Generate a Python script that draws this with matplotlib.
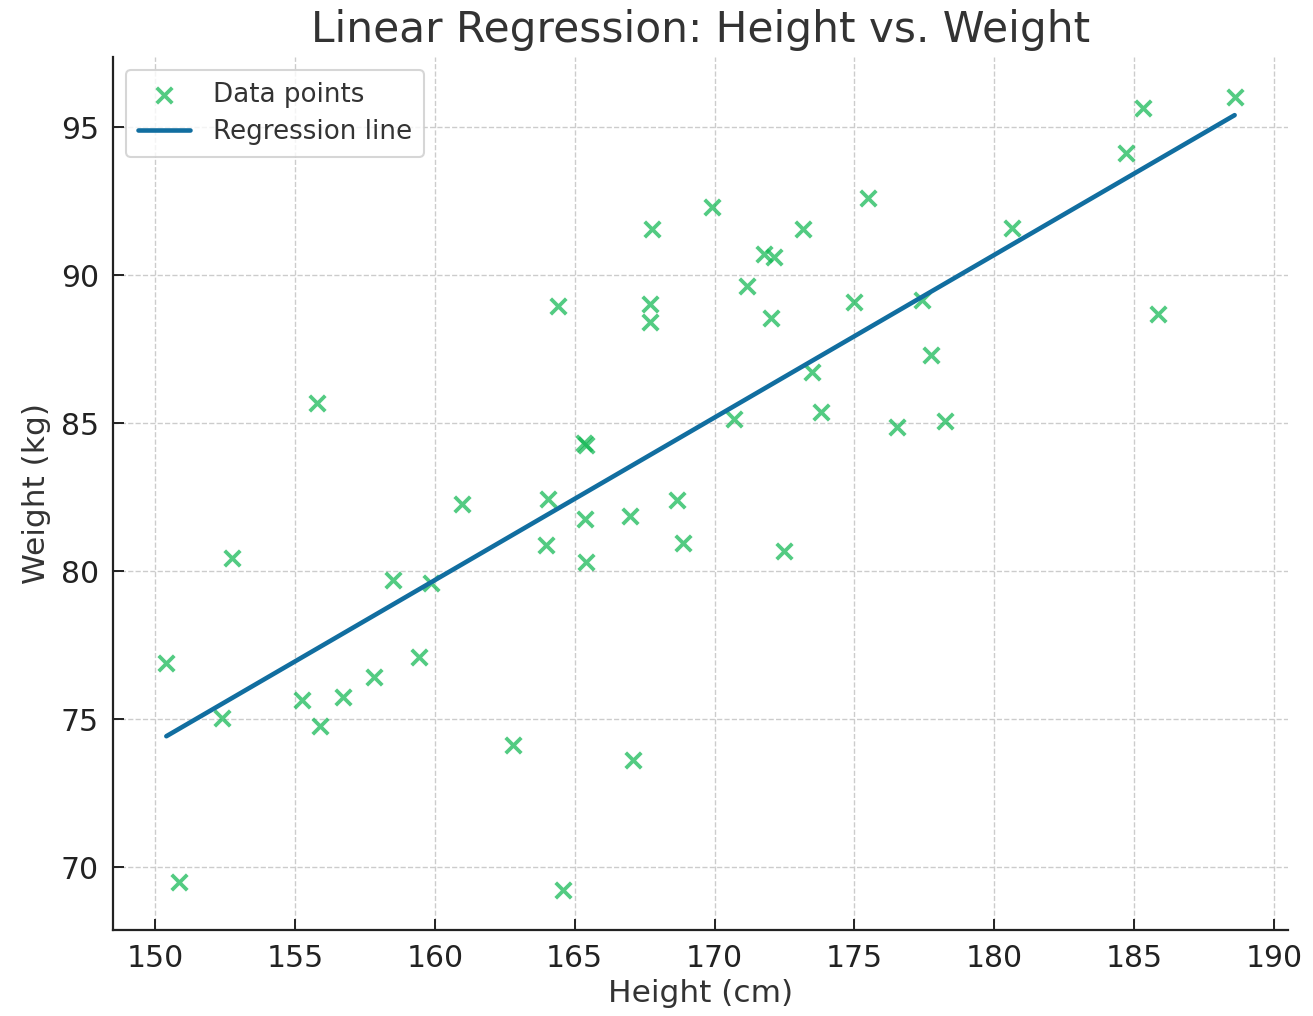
import numpy as np
import matplotlib
matplotlib.use("Agg")
import matplotlib.pyplot as plt

# Datos
height = [150.40, 150.84, 152.38, 152.73, 155.24, 155.77, 155.91, 156.70, 157.81, 158.52,
          159.42, 159.85, 160.96, 162.81, 164.03, 163.99, 164.41, 164.57, 165.33, 165.42,
          165.35, 165.39, 166.99, 167.10, 167.77, 167.68, 167.68, 168.64, 168.88, 169.89,
          170.71, 171.14, 171.76, 172.14, 172.00, 172.47, 173.17, 173.49, 173.79, 175.00,
          175.49, 176.53, 177.42, 177.72, 178.25, 180.64, 184.72, 185.30, 185.84, 188.59]
weight = [76.89, 69.51, 75.04, 80.46, 75.67, 85.68, 74.77, 75.74, 76.42, 79.69,
          77.12, 79.62, 82.28, 74.12, 82.45, 80.90, 88.97, 69.24, 84.33, 84.25,
          81.78, 80.30, 81.86, 73.62, 91.55, 89.02, 88.43, 82.42, 80.94, 92.30,
          85.15, 89.64, 90.70, 90.60, 88.54, 80.68, 91.55, 86.74, 85.37, 89.10,
          92.59, 84.87, 89.16, 87.31, 85.09, 91.60, 94.12, 95.65, 88.69, 96.03]

x = np.array(height)
y = np.array(weight)

# Recta de regresion (minimos cuadrados)
slope, intercept = np.polyfit(x, y, 1)
x_line = np.array([x.min(), x.max()])
y_line = slope * x_line + intercept

text_color = '#333333'

fig = plt.figure(figsize=(13.13, 10.16), dpi=100)
ax = fig.add_axes([0.086, 0.085, 0.895, 0.859])

ax.scatter(x, y, marker='x', s=125, linewidths=2.7, color='#10b752', alpha=0.72,
           label='Data points', zorder=3)
ax.plot(x_line, y_line, color='#116ea0', linewidth=3.3, solid_capstyle='round',
        label='Regression line', zorder=4)

ax.set_title('Linear Regression: Height vs. Weight', fontsize=30.4, color=text_color, pad=11)
ax.set_xlabel('Height (cm)', fontsize=22.5, color=text_color, labelpad=5)
ax.set_ylabel('Weight (kg)', fontsize=22.5, color=text_color, labelpad=7)

ax.grid(True, linestyle='--', color='#cccccc', linewidth=1)
ax.set_axisbelow(True)

for side in ['top', 'right']:
    ax.spines[side].set_visible(False)
for side in ['left', 'bottom']:
    ax.spines[side].set_linewidth(1.6)
    ax.spines[side].set_color('#222222')

ax.tick_params(direction='in', length=8, width=1.4, labelsize=21.5, colors='#222222', pad=10)
ax.set_xticks([150, 155, 160, 165, 170, 175, 180, 185, 190])
ax.set_yticks([70, 75, 80, 85, 90, 95])

leg = ax.legend(loc='upper left', fontsize=18.8, frameon=True, borderpad=0.45,
                handlelength=2.0, handletextpad=0.9, labelspacing=0.45)
leg.get_frame().set_edgecolor('#cccccc')
leg.get_frame().set_linewidth(1.5)
for t in leg.get_texts():
    t.set_color(text_color)

fig.savefig('out.png', dpi=100)
